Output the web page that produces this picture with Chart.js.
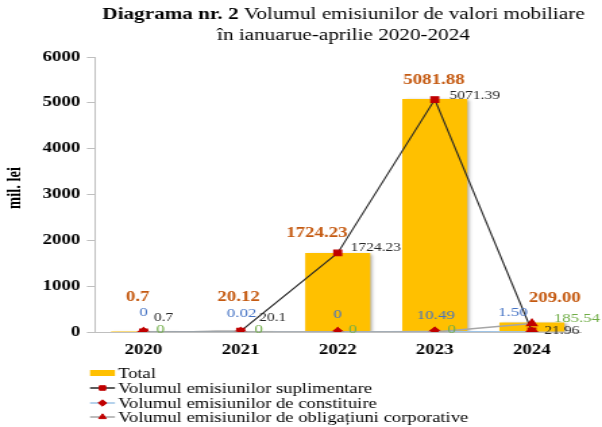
<!DOCTYPE html>
<html>
<head>
<meta charset="utf-8">
<script src="https://cdn.jsdelivr.net/npm/chart.js@4.4.1/dist/chart.umd.min.js"></script>
<style>
    html, body { margin: 0; padding: 0; background: #fff; }
</style>
</head>
<body>
<!-- the reference picture is stretched sideways, so the canvas is drawn narrow and widened by its style -->
<canvas id="chart" width="446" height="427" style="display:block;width:602px;height:427px"></canvas>
<script>
const years = ['2020', '2021', '2022', '2023', '2024'];
const total = [0.7, 20.12, 1724.23, 5081.88, 209.00];
const suplimentare = [0.7, 20.1, 1724.23, 5071.39, 21.96];
const constituire = [0, 0.02, 0, 10.49, 1.50];
const obligatiuni = [0, 0, 0, 0, 185.54];

const totalText = ['0.7', '20.12', '1724.23', '5081.88', '209.00'];
const suplimentareText = ['0.7', '20.1', '1724.23', '5071.39', '21.96'];
const constituireText = ['0', '0.02', '0', '10.49', '1.50'];
const obligatiuniText = ['0', '0', '0', '0', '185.54'];

const yMin = 0, yMax = 6000, yStep = 1000;

const STRETCH = 602 / 446;
const SERIF = '"Liberation Serif", "Times New Roman", serif';

// label look and offsets (offsets in picture px, x gets divided by STRETCH)
const labelStyle = [
    {text: totalText, color: '#C55A11', font: 'bold 14px ' + SERIF,
        dx: [-6, -2, -21, -1, 23], dy: [-35, -34, -20, -19, -24]},
    {text: suplimentareText, color: '#262626', font: '11.5px ' + SERIF,
        dx: [20, 32, 38, 40, 30], dy: [-14, -13, -5, -4, 0]},
    {text: constituireText, color: '#4472C4', font: '12.5px ' + SERIF,
        dx: [0, 1, 0, 1, -19], dy: [-19, -18, -17, -16, -19]},
    {text: obligatiuniText, color: '#70AD47', font: '12.5px ' + SERIF,
        dx: [17, 18, 15, 17, 45], dy: [-2, -2, -2, -2, -5]}
];

const legendRows = [373, 388, 403, 417];

const barShadow = {
    id: 'barShadow',
    beforeDatasetDraw(chart, args) {
        if (args.index !== 0) return;
        const ctx = chart.ctx;
        ctx.save();
        ctx.shadowColor = 'rgba(0,0,0,0.35)';
        ctx.shadowOffsetX = 2;
        ctx.shadowOffsetY = 1;
        ctx.shadowBlur = 3;
    },
    afterDatasetDraw(chart, args) {
        if (args.index !== 0) return;
        chart.ctx.restore();
    }
};

const valueLabels = {
    id: 'valueLabels',
    afterDatasetsDraw(chart) {
        const ctx = chart.ctx;
        ctx.save();
        ctx.textAlign = 'center';
        ctx.textBaseline = 'middle';
        labelStyle.forEach((st, i) => {
            const meta = chart.getDatasetMeta(i);
            ctx.fillStyle = st.color;
            ctx.font = st.font;
            meta.data.forEach((el, j) => {
                ctx.fillText(st.text[j], el.x + st.dx[j] / STRETCH, el.y + st.dy[j]);
            });
        });
        ctx.restore();
    }
};

const titleAndLegend = {
    id: 'titleAndLegend',
    afterDraw(chart) {
        const ctx = chart.ctx;
        ctx.save();
        ctx.fillStyle = '#000';
        ctx.textBaseline = 'middle';
        ctx.textAlign = 'left';

        // title, first line has a bold start
        const cx = 343.5 / STRETCH;
        const boldPart = 'Diagrama nr. 2 ';
        const restPart = 'Volumul emisiunilor de valori mobiliare';
        ctx.font = 'bold 15.7px ' + SERIF;
        const w1 = ctx.measureText(boldPart).width;
        ctx.font = '15.7px ' + SERIF;
        const w2 = ctx.measureText(restPart).width;
        let x = cx - (w1 + w2) / 2;
        ctx.font = 'bold 15.7px ' + SERIF;
        ctx.fillText(boldPart, x, 15);
        ctx.font = '15.7px ' + SERIF;
        ctx.fillText(restPart, x + w1, 15);
        ctx.textAlign = 'center';
        ctx.fillText('în ianuarue-aprilie 2020-2024', cx, 36);

        // y axis title
        ctx.save();
        ctx.translate(15 / STRETCH, 188);
        ctx.rotate(-Math.PI / 2);
        ctx.font = 'bold 14.5px ' + SERIF;
        ctx.fillText('mil. lei', 0, 0);
        ctx.restore();

        // legend, one item per row
        const x0 = 90 / STRETCH, x1 = 115 / STRETCH, tx = 118 / STRETCH;
        ctx.textAlign = 'left';
        ctx.font = '13.8px ' + SERIF;
        chart.data.datasets.forEach((ds, i) => {
            const y = legendRows[i];
            if (ds.type === 'bar') {
                ctx.fillStyle = ds.backgroundColor;
                ctx.fillRect(x0, y - 3, x1 - x0, 6);
            } else {
                ctx.strokeStyle = ds.borderColor;
                ctx.lineWidth = 1.5;
                ctx.beginPath();
                ctx.moveTo(x0, y);
                ctx.lineTo(x1, y);
                ctx.stroke();
                ctx.fillStyle = ds.pointBackgroundColor;
                ctx.strokeStyle = ds.pointBorderColor;
                ctx.lineWidth = 1;
                Chart.helpers.drawPoint(ctx, {pointStyle: ds.pointStyle, radius: 3.2, rotation: 0, borderWidth: 1}, (x0 + x1) / 2, y);
            }
            ctx.fillStyle = '#000';
            ctx.fillText(ds.label, tx, y + 1);
        });
        ctx.restore();
    }
};

const data = {
    labels: years,
    datasets: [{
            type: 'bar',
            label: 'Total',
            data: total,
            backgroundColor: '#FFC000',
            borderWidth: 0,
            barPercentage: 0.67,
            categoryPercentage: 1,
            order: 3
        }, {
            type: 'line',
            label: 'Volumul emisiunilor suplimentare',
            data: suplimentare,
            borderColor: '#262626',
            borderWidth: 1.1,
            pointStyle: 'rect',
            pointRadius: 4,
            pointBackgroundColor: '#C00000',
            pointBorderColor: '#C00000',
            order: 2
        }, {
            type: 'line',
            label: 'Volumul emisiunilor de constituire',
            data: constituire,
            borderColor: '#9DC3E6',
            borderWidth: 1.5,
            pointStyle: 'rectRot',
            pointRadius: 4,
            pointBackgroundColor: '#C00000',
            pointBorderColor: '#C00000',
            order: 1
        }, {
            type: 'line',
            label: 'Volumul emisiunilor de obligațiuni corporative',
            data: obligatiuni,
            borderColor: '#A6A6A6',
            borderWidth: 1.5,
            pointStyle: 'triangle',
            pointRadius: 4,
            pointBackgroundColor: '#C00000',
            pointBorderColor: '#C00000',
            order: 0
        }]
};

const config = {
    type: 'bar',
    data: data,
    options: {
        responsive: false,
        animation: false,
        layout: {
            padding: {top: 57, left: 0, right: 16, bottom: 65}
        },
        plugins: {
            legend: {display: false},
            tooltip: {enabled: false}
        },
        scales: {
            x: {
                grid: {display: false, drawTicks: false},
                border: {display: true, color: '#BFBFBF', width: 1},
                ticks: {
                    color: '#000',
                    padding: 10,
                    font: {family: SERIF, size: 14, weight: 'bold'}
                },
                afterFit(scale) {
                    scale.height = 30;
                }
            },
            y: {
                min: yMin,
                max: yMax,
                ticks: {
                    stepSize: yStep,
                    color: '#000',
                    padding: 5,
                    font: {family: SERIF, size: 14, weight: 'bold'},
                    callback: (v) => String(v)
                },
                grid: {drawOnChartArea: false, drawTicks: true, tickLength: 6, color: '#BFBFBF'},
                border: {display: true, color: '#BFBFBF', width: 1},
                afterFit(scale) {
                    scale.width = 70.4;
                }
            }
        }
    },
    plugins: [barShadow, valueLabels, titleAndLegend]
};

let ctx = document.getElementById('chart').getContext('2d');
new Chart(ctx, config);
</script>
</body>
</html>
